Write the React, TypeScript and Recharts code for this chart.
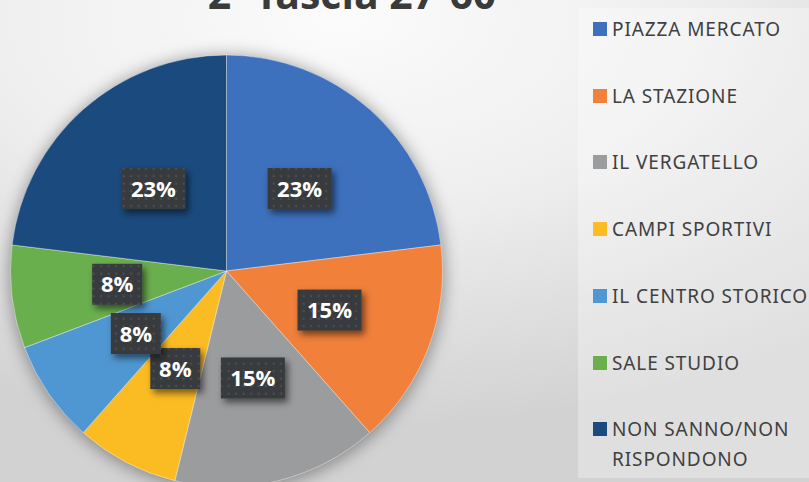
import React from 'react';
import { PieChart, Pie, Cell, Legend } from 'recharts';

const title = '2° fascia 27-60';
const categories = [
  'PIAZZA MERCATO',
  'LA STAZIONE',
  'IL VERGATELLO',
  'CAMPI SPORTIVI',
  'IL CENTRO STORICO',
  'SALE STUDIO',
  'NON SANNO/NON RISPONDONO',
];
const legendLines = [
  ['PIAZZA MERCATO'],
  ['LA STAZIONE'],
  ['IL VERGATELLO'],
  ['CAMPI SPORTIVI'],
  ['IL CENTRO STORICO'],
  ['SALE STUDIO'],
  ['NON SANNO/NON', 'RISPONDONO'],
];
const counts = [3, 2, 2, 1, 1, 1, 3];
const colors = ['#3d70bd', '#f0803a', '#9a9c9d', '#fbbb22', '#4f97d2', '#6aaf4e', '#1b4a7e'];

const data = categories.map((name, i) => ({ name, value: counts[i] }));
const shadowData = [{ name: 'shadow', value: 1 }];

const RAD = Math.PI / 180;

const renderLabel = (props: any) => {
  const { cx, cy, midAngle, outerRadius, percent } = props;
  const r = outerRadius * 0.51;
  const x = cx + r * Math.cos(-midAngle * RAD);
  const y = cy + r * Math.sin(-midAngle * RAD);
  const text = `${Math.round(percent * 100)}%`;
  const w = text.length * 14 + 22;
  const h = 41;
  return (
    <g>
      <rect x={x - w / 2} y={y - h / 2} width={w} height={h} fill="url(#dots)" filter="url(#lblShadow)" />
      <text
        x={x}
        y={y}
        dy={8}
        textAnchor="middle"
        fill="#ffffff"
        fontFamily="'Open Sans', sans-serif"
        fontWeight={700}
        fontSize={22}
      >
        {text}
      </text>
    </g>
  );
};

const renderLegend = () => (
  <div style={{ position: 'relative', width: 231, height: 470 }}>
    {legendLines.map((lines, i) => {
      const centerY = 21 + i * 66.7;
      return (
        <div key={i} style={{ position: 'absolute', left: 0, top: centerY - 15 }}>
          <div
            style={{
              position: 'absolute',
              left: 15,
              top: 8,
              width: 14,
              height: 14,
              background: colors[i],
            }}
          />
          <div
            style={{
              position: 'absolute',
              left: 34,
              top: 0,
              whiteSpace: 'nowrap',
              fontFamily: "'Noto Sans', sans-serif",
              fontSize: 19,
              letterSpacing: 0.9,
              lineHeight: '30px',
              color: '#404040',
            }}
          >
            {lines.map((l, j) => (
              <div key={j}>{l}</div>
            ))}
          </div>
        </div>
      );
    })}
  </div>
);

export default function App() {
  return (
    <div
      style={{
        position: 'absolute',
        left: 0,
        top: 0,
        width: 809,
        height: 482,
        overflow: 'hidden',
        background:
          'radial-gradient(ellipse 95% 85% at 42% 4%, #fbfbfb 0%, #efefef 45%, #d2d2d2 100%)',
      }}
    >
      <svg width={809} height={482} style={{ position: 'absolute', left: 0, top: 0 }}>
        <text
          x={352}
          y={9}
          textAnchor="middle"
          fill="#3a3a3a"
          fontFamily="'Open Sans', sans-serif"
          fontWeight={700}
          fontSize={41}
        >
          {title}
        </text>
      </svg>
      <div style={{ position: 'absolute', left: 0, top: 0 }}>
        <PieChart width={809} height={482} margin={{ top: 0, right: 0, bottom: 0, left: 0 }}>
          <defs>
            <pattern id="dots" width="7.5" height="7.5" patternUnits="userSpaceOnUse">
              <rect width="7.5" height="7.5" fill="#383a3d" />
              <rect x="2.5" y="2.5" width="2.2" height="2.2" fill="#4c4e52" />
            </pattern>
            <filter id="lblShadow" x="-30%" y="-30%" width="170%" height="190%">
              <feDropShadow dx="3" dy="4" stdDeviation="3.5" floodColor="#000" floodOpacity="0.55" />
            </filter>
            <filter id="pieShadow" x="-20%" y="-20%" width="140%" height="140%">
              <feGaussianBlur stdDeviation="8" />
            </filter>
          </defs>
          <Pie
            data={shadowData}
            dataKey="value"
            cx={227}
            cy={273}
            outerRadius={218}
            startAngle={90}
            endAngle={-270}
            stroke="none"
            isAnimationActive={false}
            legendType="none"
          >
            <Cell fill="rgba(0,0,0,0.35)" filter="url(#pieShadow)" />
          </Pie>
          <Pie
            data={data}
            dataKey="value"
            nameKey="name"
            cx={226.5}
            cy={271}
            outerRadius={216}
            startAngle={90}
            endAngle={-270}
            stroke="rgba(255,255,255,0.5)"
            strokeWidth={0.8}
            label={renderLabel}
            labelLine={false}
            isAnimationActive={false}
          >
            {data.map((d, i) => (
              <Cell key={d.name} fill={colors[i]} />
            ))}
          </Pie>
          <Legend
            content={renderLegend}
            wrapperStyle={{
              position: 'absolute',
              left: 578,
              top: 8,
              width: 231,
              height: 470,
              background: 'rgba(255,255,255,0.3)',
            }}
          />
        </PieChart>
      </div>
    </div>
  );
}
